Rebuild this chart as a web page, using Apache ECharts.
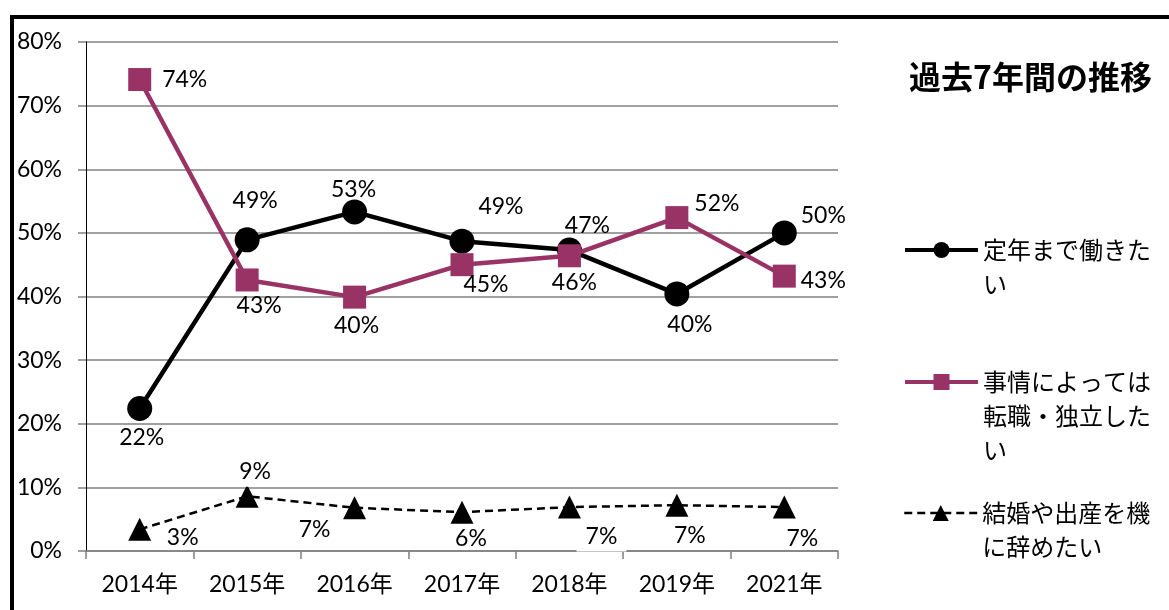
<!DOCTYPE html>
<html>
<head>
<meta charset="utf-8">
<script src="https://cdn.jsdelivr.net/npm/echarts@6/dist/echarts.min.js"></script>
<style>
html,body{margin:0;padding:0;background:#fff;}
#chart{width:1169px;height:610px;}
</style>
</head>
<body>
<div id="chart"></div>
<script>
const categories = ['2014年', '2015年', '2016年', '2017年', '2018年', '2019年', '2021年'];
const seriesNames = ['定年まで働きたい', '事情によっては転職・独立したい', '結婚や出産を機に辞めたい'];
const teinen = [22.4, 48.9, 53.3, 48.7, 47.3, 40.4, 50.0];
const tenshoku = [74.1, 42.6, 39.9, 45.0, 46.4, 52.4, 43.2];
const kekkon = [3.4, 8.6, 6.8, 6.1, 6.9, 7.2, 6.9];
const titleText = '過去7年間の推移';

// label placement (pixel offsets from the point)
const teinenOffsets = [[2, 29], [8, -39], [-1, -22], [39, -35], [18, -24], [13, 31], [39, -17]];
const tenshokuOffsets = [[45, 0], [12, 26], [2, 28], [24, 20], [5, 27], [40, -14], [39, 4]];
const kekkonOffsets = [[43, 8], [8, -25], [-40, 22], [9, 26], [32, 29], [13, 30], [18, 31]];
const kekkonLabelBg = [false, true, false, false, true, false, false];

const FONT = 'Lato, "Noto Sans CJK JP", sans-serif';
const JFONT = '"Noto Sans CJK JP", sans-serif';

function buildData(values, offsets, bg) {
  return values.map((v, i) => {
    const label = { offset: offsets[i] };
    if (bg && bg[i]) {
      label.backgroundColor = '#fff';
      label.padding = [4, 9];
    }
    return { value: v, label: label };
  });
}

const labelBase = {
  show: true,
  position: 'inside',
  color: '#000',
  fontSize: 23,
  fontFamily: FONT,
  formatter: p => Math.round(p.value) + '%'
};

// wrap legend text at 7 characters; blank lines in front keep the first line level with the icon
function wrap(name) {
  const lines = name.match(/.{1,7}/g);
  return '\u3000\n'.repeat(lines.length - 1) + lines.join('\n');
}

function legendFor(name, iconCenterY, lineCount, lineWidth) {
  return {
    show: true,
    data: [name],
    orient: 'vertical',
    left: 903,
    top: iconCenterY - (2 * lineCount - 1) * 17,
    padding: 0,
    itemWidth: 73,
    itemHeight: 20,
    selectedMode: false,
    formatter: wrap,
    lineStyle: { width: lineWidth },
    textStyle: {
      fontSize: 24,
      lineHeight: 34,
      color: '#000',
      fontFamily: JFONT
    }
  };
}

const chart = echarts.init(document.getElementById('chart'), null, { renderer: 'canvas' });
chart.setOption({
  animation: false,
  backgroundColor: '#fff',
  title: {
    text: titleText,
    left: 909,
    top: 61,
    padding: 0,
    textStyle: { fontSize: 32, fontWeight: 'bold', color: '#000', fontFamily: JFONT }
  },
  legend: [
    legendFor(seriesNames[0], 250, 2, 4),
    legendFor(seriesNames[1], 382, 3, 4),
    legendFor(seriesNames[2], 513, 2, 2.5)
  ],
  graphic: [{
    type: 'rect',
    shape: { x: 12, y: 17, width: 1300, height: 800 },
    style: { fill: 'none', stroke: '#000', lineWidth: 4 },
    silent: true,
    z: 100
  }],
  grid: { left: 86, right: 331, top: 42, bottom: 59 },
  xAxis: {
    type: 'category',
    data: categories,
    boundaryGap: true,
    axisLine: { lineStyle: { color: '#808080', width: 1.5 } },
    axisTick: { show: true, length: 8, inside: false, alignWithLabel: false, lineStyle: { color: '#808080', width: 1.5 } },
    axisLabel: { color: '#000', fontSize: 23, fontFamily: FONT, margin: 22 }
  },
  yAxis: {
    type: 'value',
    min: 0,
    max: 80,
    interval: 10,
    axisLine: { show: true, lineStyle: { color: '#000', width: 1 } },
    axisTick: { show: true, length: 8, lineStyle: { color: '#808080', width: 1.5 } },
    axisLabel: { color: '#000', fontSize: 23, fontFamily: FONT, margin: 24, formatter: '{value}%' },
    splitLine: { show: true, lineStyle: { color: '#808080', width: 1.5 } }
  },
  series: [
    {
      name: seriesNames[0],
      type: 'line',
      data: buildData(teinen, teinenOffsets),
      symbol: 'circle',
      symbolSize: 25,
      itemStyle: { color: '#000' },
      lineStyle: { color: '#000', width: 4.5 },
      label: labelBase,
      z: 2
    },
    {
      name: seriesNames[1],
      type: 'line',
      data: buildData(tenshoku, tenshokuOffsets),
      symbol: 'rect',
      symbolSize: 23,
      itemStyle: { color: '#993366' },
      lineStyle: { color: '#993366', width: 4.5 },
      label: labelBase,
      z: 3
    },
    {
      name: seriesNames[2],
      type: 'line',
      data: buildData(kekkon, kekkonOffsets, kekkonLabelBg),
      symbol: 'triangle',
      symbolSize: [23, 23],
      itemStyle: { color: '#000' },
      lineStyle: { color: '#000', width: 2.5, type: [8, 5] },
      label: labelBase,
      z: 4
    }
  ]
});
</script>
</body>
</html>
